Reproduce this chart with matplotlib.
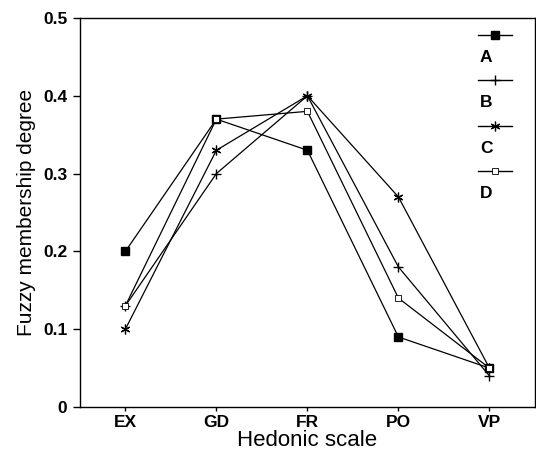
import matplotlib
matplotlib.use("Agg")
import matplotlib.pyplot as plt

plt.rcParams['font.family'] = ['Liberation Sans', 'DejaVu Sans']

# --- Données --- #
categories = ["EX", "GD", "FR", "PO", "VP"]
series_names = ["A", "B", "C", "D"]
values_A = [0.20, 0.37, 0.33, 0.09, 0.05]
values_B = [0.13, 0.30, 0.40, 0.18, 0.04]
values_C = [0.10, 0.33, 0.40, 0.27, 0.05]
values_D = [0.13, 0.37, 0.38, 0.14, 0.05]
y_ticks = [0, 0.1, 0.2, 0.3, 0.4, 0.5]
y_tick_labels = ["0", "0.1", "0.2", "0.3", "0.4", "0.5"]

# style de chaque série
styles = {
    "A": dict(marker="s", markersize=5.5, markerfacecolor="black"),
    "B": dict(marker="+", markersize=7, markeredgewidth=1.0),
    "C": dict(marker=(6, 2, 0), markersize=7, markeredgewidth=0.9),
    "D": dict(marker="s", markersize=5, markerfacecolor="white", markeredgewidth=0.6),
}

fig = plt.figure(figsize=(5.36, 4.55), dpi=100)
ax = fig.add_axes([0.149, 0.1055, 0.849, 0.855])

x = list(range(len(categories)))
for name, vals in zip(series_names, [values_A, values_B, values_C, values_D]):
    ax.plot(x, vals, color="black", linewidth=0.9, **styles[name])

ax.set_xlim(-0.5, 4.5)
ax.set_ylim(0, 0.5)
ax.set_xticks(x)
ax.set_xticklabels(categories, fontsize=12.5, fontweight="bold")
ax.set_yticks(y_ticks)
ax.set_yticklabels(y_tick_labels, fontsize=12.5, fontweight="bold")
ax.tick_params(axis="y", direction="out", length=5, width=1, pad=4)
ax.tick_params(axis="x", direction="out", length=3, width=1, pad=3)

for sp in ax.spines.values():
    sp.set_linewidth(1.0)

ax.set_xlabel("Hedonic scale", fontsize=16, labelpad=0)
ax.set_ylabel("Fuzzy membership degree", fontsize=15, labelpad=5)

# Légende : ligne + marqueur, étiquette en dessous
leg_x0, leg_x1 = 0.874, 0.949
leg_top = 0.956
leg_step = 0.1165
for i, name in enumerate(series_names):
    y0 = leg_top - i * leg_step
    ax.plot([leg_x0, leg_x1], [y0, y0], color="black", linewidth=1.0,
            transform=ax.transAxes, clip_on=False)
    ax.plot([(leg_x0 + leg_x1) / 2], [y0], color="black", linestyle="none",
            transform=ax.transAxes, clip_on=False, **styles[name])
    ax.text(leg_x0 + 0.005, y0 - 0.058, name, transform=ax.transAxes,
            fontsize=12.5, fontweight="bold", ha="left", va="center")

fig.savefig("out.png", dpi=100)
plt.close(fig)
